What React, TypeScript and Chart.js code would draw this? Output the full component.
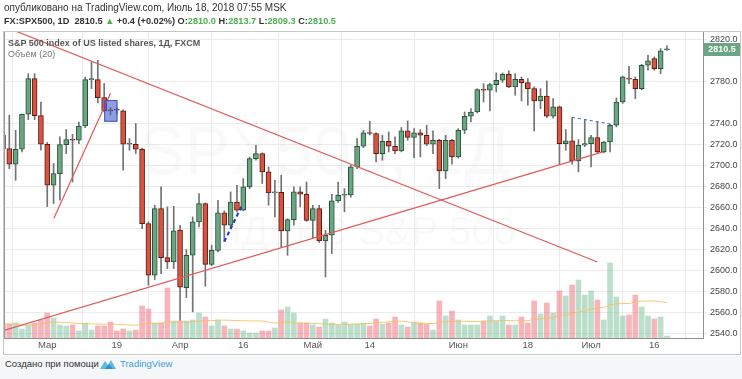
import React, { useEffect, useRef } from "react";
import { Chart, registerables } from "chart.js";

Chart.register(...registerables);

// ---- data (FX:SPX500, 1D, FXCM) ----
const opens = [2728.8, 2716.1, 2701.2, 2715.5, 2748.7, 2782.6, 2747.4, 2720.2, 2681.3, 2692.4,
  2719.9, 2724.7, 2724.0, 2737.6, 2781.6, 2781.6, 2764.5, 2753.0, 2753.0, 2751.9,
  2720.2, 2720.2, 2715.5, 2644.9, 2595.8, 2659.1, 2612.6, 2608.5, 2638.8, 2584.1,
  2614.8, 2646.5, 2663.9, 2606.2, 2619.5, 2655.0, 2643.3, 2665.4, 2657.5, 2679.7,
  2706.6, 2711.4, 2694.0, 2674.0, 2674.5, 2637.9, 2648.7, 2675.0, 2672.7, 2648.0,
  2659.1, 2628.4, 2633.8, 2666.4, 2671.8, 2672.0, 2698.7, 2718.3, 2731.0, 2730.4,
  2711.4, 2723.1, 2718.3, 2713.9, 2732.9, 2726.6, 2731.0, 2728.8, 2720.2, 2724.0,
  2694.9, 2724.0, 2708.2, 2733.5, 2746.8, 2750.9, 2772.1, 2771.5, 2776.9, 2781.0,
  2786.7, 2774.7, 2782.0, 2778.8, 2773.1, 2761.4, 2766.1, 2746.8, 2755.7, 2720.9,
  2723.4, 2704.4, 2719.3, 2720.9, 2726.6, 2712.9, 2722.4, 2738.3, 2760.4, 2783.2,
  2782.0, 2773.1, 2795.3, 2801.6, 2792.1, 2810.0];

const closes = [2716.1, 2701.2, 2715.5, 2748.7, 2782.6, 2747.4, 2720.2, 2681.3, 2692.4, 2719.9,
  2724.7, 2724.0, 2737.6, 2781.6, 2782.2, 2764.5, 2751.9, 2752.0, 2752.5, 2720.2,
  2720.8, 2715.5, 2644.9, 2595.8, 2659.1, 2612.6, 2608.5, 2637.9, 2584.4, 2614.8,
  2646.5, 2663.9, 2606.2, 2619.5, 2655.0, 2643.3, 2665.4, 2657.5, 2679.7, 2706.6,
  2711.4, 2694.0, 2674.0, 2674.5, 2637.9, 2648.7, 2675.0, 2672.7, 2648.0, 2659.1,
  2628.4, 2633.8, 2666.4, 2671.8, 2672.3, 2698.7, 2718.3, 2731.0, 2730.4, 2711.4,
  2723.1, 2718.3, 2713.9, 2732.9, 2726.6, 2731.0, 2728.8, 2720.2, 2724.0, 2694.9,
  2724.0, 2708.2, 2733.5, 2746.8, 2750.9, 2772.1, 2771.5, 2776.9, 2781.0, 2786.7,
  2774.7, 2782.0, 2778.8, 2773.1, 2761.4, 2766.1, 2746.8, 2755.7, 2720.9, 2723.4,
  2704.4, 2719.3, 2720.9, 2726.6, 2712.9, 2722.4, 2738.3, 2760.4, 2784.2, 2782.0,
  2773.1, 2795.3, 2799.4, 2792.1, 2808.9, 2810.5];

const highs = [2731.0, 2747.8, 2733.5, 2749.0, 2787.3, 2787.3, 2760.4, 2722.0, 2701.9, 2727.2,
  2734.2, 2729.7, 2741.4, 2784.0, 2798.4, 2800.0, 2777.8, 2755.0, 2755.0, 2753.0,
  2725.6, 2739.9, 2716.5, 2646.5, 2662.3, 2679.7, 2660.7, 2661.3, 2643.3, 2620.2,
  2651.2, 2673.4, 2664.5, 2624.3, 2667.0, 2657.0, 2675.0, 2681.3, 2687.6, 2708.0,
  2719.3, 2712.0, 2698.7, 2686.0, 2690.8, 2649.5, 2679.7, 2679.7, 2684.4, 2662.3,
  2662.3, 2638.5, 2672.7, 2684.4, 2678.1, 2700.3, 2725.6, 2733.5, 2742.1, 2731.0,
  2728.8, 2731.9, 2727.2, 2736.1, 2742.4, 2735.1, 2734.2, 2738.3, 2732.9, 2725.0,
  2728.8, 2725.0, 2735.1, 2750.9, 2754.1, 2773.1, 2777.8, 2778.0, 2788.0, 2788.0,
  2789.9, 2787.3, 2784.2, 2782.6, 2774.7, 2773.1, 2780.4, 2763.6, 2756.5, 2734.2,
  2745.5, 2724.7, 2743.6, 2728.8, 2741.4, 2723.0, 2739.2, 2764.2, 2785.0, 2794.3,
  2784.2, 2796.2, 2804.8, 2803.2, 2811.1, 2813.7];

const lows = [2713.0, 2697.1, 2686.0, 2712.9, 2743.6, 2743.6, 2714.5, 2661.0, 2664.0, 2667.0,
  2711.4, 2684.4, 2720.9, 2736.0, 2773.1, 2759.5, 2751.0, 2748.0, 2749.0, 2695.5,
  2714.5, 2711.4, 2640.1, 2586.3, 2591.7, 2597.4, 2602.1, 2602.1, 2553.0, 2574.6,
  2561.0, 2641.7, 2585.4, 2605.0, 2618.0, 2628.0, 2641.0, 2656.0, 2657.0, 2678.0,
  2705.0, 2682.9, 2662.3, 2651.2, 2622.7, 2614.8, 2643.3, 2660.7, 2647.0, 2630.6,
  2627.0, 2594.2, 2616.4, 2665.0, 2656.0, 2670.0, 2697.0, 2717.0, 2729.0, 2703.4,
  2705.0, 2712.9, 2711.4, 2713.0, 2724.0, 2707.6, 2708.2, 2719.0, 2711.4, 2678.1,
  2687.6, 2701.2, 2707.0, 2730.4, 2741.4, 2750.0, 2760.4, 2751.9, 2769.9, 2779.0,
  2774.0, 2766.8, 2761.4, 2757.3, 2732.9, 2754.1, 2745.5, 2745.0, 2701.2, 2714.5,
  2701.2, 2694.0, 2718.0, 2698.7, 2711.8, 2712.0, 2712.9, 2736.7, 2759.0, 2777.8,
  2763.6, 2772.0, 2790.5, 2790.5, 2787.3, 2809.3];

const volumes = [14, 14, 15, 9, 13, 15, 18, 25, 20, 13,
  12, 13, 7, 15, 8, 12, 12, 16, 7, 9,
  7, 8, 32, 29, 15, 15, 50, 17, 17, 17,
  18, 25, 21, 12, 18, 12, 9, 9, 7, 5,
  5, 7, 7, 10, 28, 31, 25, 15, 15, 13,
  11, 19, 15, 13, 16, 14, 14, 15, 12, 19,
  14, 15, 21, 13, 11, 16, 15, 14, 8, 37,
  22, 27, 18, 13, 13, 13, 17, 22, 17, 22,
  13, 13, 21, 15, 37, 24, 35, 25, 47, 42,
  53, 58, 43, 47, 38, 18, 75, 41, 22, 23,
  43, 31, 22, 19, 21, 2];

const xTickIndex = [7, 18, 28, 38, 49, 58, 72, 83, 93, 103];
const xTickLabels = ["Мар", "19", "Апр", "16", "Май", "14", "Июн", "18", "Июл", "16"];
const priceTicks = [2540, 2560, 2580, 2600, 2620, 2640, 2660, 2680, 2700, 2720, 2740, 2780, 2820];

// drawings, in [bar index, price]
const redLineA = [[0, 2832.5], [94, 2608.4]];
const redLineB = [[0, 2543.2], [95, 2713.2]];
const redLineC = [[8.05, 2649.9], [17.0, 2768.6]];
const blueLineA = [[35, 2627.7], [37.7, 2660.9]];
const blueLineB = [[90, 2745.8], [97, 2738.5]];
const blueBoxX = [16.0, 18.1];
const blueBoxY = [2741.6, 2762.2];

const FONT = '"Liberation Sans", Arial, sans-serif';

export default function App() {
  const ref = useRef<HTMLCanvasElement>(null);

  useEffect(() => {
    const canvas = ref.current!;
    Chart.defaults.font.family = FONT;
    const idx = opens.map((_, i) => i);
    const up = (i: number) => closes[i] >= opens[i];
    const volumeMA = volumes.map((_, i) => {
      const s = volumes.slice(Math.max(0, i - 19), i + 1);
      return s.reduce((a, b) => a + b, 0) / s.length;
    });
    const seg = (pts: number[][]) => pts.map((p) => ({ x: p[0], y: p[1] }));

    const decor = {
      id: "decor",
      beforeDraw(chart: any) {
        const c = chart.ctx;
        c.save();
        c.fillStyle = "#ffffff";
        c.fillRect(0, 0, chart.width, chart.height);
        c.restore();
      },
      beforeDatasetsDraw(chart: any) {
        const c = chart.ctx;
        const a = chart.chartArea;
        c.save();
        c.beginPath();
        c.rect(a.left, a.top, a.right - a.left, a.bottom - a.top);
        c.clip();
        c.fillStyle = "rgba(0,0,0,0.022)";
        c.textAlign = "center";
        c.textBaseline = "middle";
        c.font = `68px ${FONT}`;
        c.fillText("SPX500, 1Д", 325, 155);
        c.font = `40px ${FONT}`;
        c.fillText("ИНДЕКС S&P 500", 350, 234);
        c.restore();
      },
      afterDatasetsDraw(chart: any) {
        const c = chart.ctx;
        const xs = chart.scales.x;
        const ys = chart.scales.y;
        const a = chart.chartArea;
        c.save();
        const x0 = xs.getPixelForValue(blueBoxX[0]);
        const x1 = xs.getPixelForValue(blueBoxX[1]);
        const y0 = ys.getPixelForValue(blueBoxY[1]);
        const y1 = ys.getPixelForValue(blueBoxY[0]);
        c.fillStyle = "rgba(66,92,200,0.6)";
        c.fillRect(x0, y0, x1 - x0, y1 - y0);
        c.strokeStyle = "#3b55c8";
        c.lineWidth = 1;
        c.strokeRect(x0 + 0.5, y0 + 0.5, x1 - x0 - 1, y1 - y0 - 1);
        c.strokeStyle = "#9a9a9a";
        c.beginPath();
        c.moveTo(a.left + 0.5, a.top);
        c.lineTo(a.left + 0.5, a.bottom);
        c.stroke();
        c.strokeStyle = "#c8c8c8";
        c.strokeRect(3.5, 31.5, 737, 323);
        c.restore();
      },
      afterDraw(chart: any) {
        const c = chart.ctx;
        const ys = chart.scales.y;
        const last = closes[closes.length - 1];
        const y = ys.getPixelForValue(last);
        c.save();
        c.fillStyle = "#6ba583";
        c.fillRect(704, Math.round(y) - 6, 36, 13);
        c.fillStyle = "#ffffff";
        c.font = `bold 9px ${FONT}`;
        c.textAlign = "center";
        c.textBaseline = "middle";
        c.fillText(last.toFixed(1), 722, Math.round(y) + 0.5);
        c.restore();
      },
    };

    const lineDs = (pts: number[][], color: string, width: number, dash: number[] = []) => ({
      type: "line" as const,
      data: seg(pts),
      borderColor: color,
      borderWidth: width,
      borderDash: dash,
      pointRadius: 0,
      fill: false,
      yAxisID: "y",
      order: 0,
    });

    const chart = new Chart(canvas, {
      type: "bar",
      data: {
        datasets: [
          {
            type: "bar",
            data: volumes.map((v, i) => ({ x: i, y: v })),
            backgroundColor: idx.map((i) => (up(i) ? "rgba(107,184,141,0.45)" : "rgba(232,92,103,0.45)")),
            barThickness: 5,
            grouped: false,
            yAxisID: "yv",
            order: 10,
          } as any,
          {
            type: "line",
            data: volumeMA.map((v, i) => ({ x: i, y: v })),
            borderColor: "rgba(247,190,90,0.85)",
            borderWidth: 1,
            pointRadius: 0,
            yAxisID: "yv",
            order: 9,
          } as any,
          {
            type: "bar",
            data: idx.map((i) => ({ x: i, y: [lows[i], highs[i]] })),
            backgroundColor: "#737375",
            barThickness: 1,
            grouped: false,
            yAxisID: "y",
            order: 3,
          } as any,
          {
            type: "bar",
            data: idx.map((i) => ({ x: i, y: [opens[i], closes[i]] })),
            backgroundColor: idx.map((i) => (up(i) ? "#6ba583" : "#d75442")),
            borderColor: idx.map((i) => (up(i) ? "#225437" : "#5b1a13")),
            borderWidth: 1,
            borderSkipped: false,
            barThickness: 5,
            minBarLength: 1,
            grouped: false,
            yAxisID: "y",
            order: 2,
          } as any,
          lineDs(redLineA, "#e05a5a", 1.2) as any,
          lineDs(redLineB, "#e05a5a", 1.2) as any,
          lineDs(redLineC, "#e05a5a", 1.2) as any,
          lineDs(blueLineA, "#1f35c9", 2, [4, 3]) as any,
          lineDs(blueLineB, "#4a5fd0", 1, [3, 3]) as any,
        ],
      },
      options: {
        responsive: false,
        animation: false,
        devicePixelRatio: 1,
        events: [],
        layout: { padding: { left: 4, top: 31, right: 0, bottom: 23 } },
        plugins: { legend: { display: false }, tooltip: { enabled: false } },
        scales: {
          x: {
            type: "linear",
            min: 0.16,
            max: 110.7,
            offset: false,
            afterBuildTicks: (axis: any) => {
              axis.ticks = xTickIndex.map((v) => ({ value: v }));
            },
            afterFit: (axis: any) => {
              axis.height = 18;
            },
            ticks: {
              autoSkip: false,
              maxRotation: 0,
              padding: 0,
              color: "#555",
              font: { size: 9.5 },
              callback: (_v: any, i: number) => xTickLabels[i],
            },
            grid: { color: "#ebebeb", tickLength: 2 },
            border: { color: "#8f8f8f" },
          },
          y: {
            type: "linear",
            position: "right",
            min: 2536.2,
            max: 2827.8,
            afterBuildTicks: (axis: any) => {
              axis.ticks = priceTicks.map((v) => ({ value: v }));
            },
            afterFit: (axis: any) => {
              axis.width = 39;
            },
            ticks: {
              padding: 3,
              color: "#444",
              font: { size: 9 },
              callback: (v: any) => Number(v).toFixed(1),
            },
            grid: { color: "#ebebeb", tickLength: 4 },
            border: { color: "#8f8f8f" },
          },
          yv: {
            type: "linear",
            display: false,
            min: 0,
            max: 307,
          },
        },
      } as any,
      plugins: [decor],
    });
    return () => chart.destroy();
  }, []);

  const green = "#4caf50";
  return (
    <div style={{ position: "absolute", left: 0, top: 0, width: 742, height: 379, overflow: "hidden", background: "#fff", fontFamily: FONT }}>
      <canvas ref={ref} width={742} height={379} style={{ position: "absolute", left: 0, top: 0, width: 742, height: 379 }} />
      <div style={{ position: "absolute", left: 4, top: 2, fontSize: 10, color: "#333", whiteSpace: "nowrap" }}>
        опубликовано на TradingView.com, Июль 18, 2018 07:55 MSK
      </div>
      <div style={{ position: "absolute", left: 4, top: 16, fontSize: 9.2, fontWeight: "bold", color: "#333", whiteSpace: "nowrap" }}>
        FX:SPX500, 1D&nbsp; 2810.5 <span style={{ color: green }}>▲</span> +0.4 (+0.02%) O:<span style={{ color: green }}>2810.0</span> H:<span style={{ color: green }}>2813.7</span> L:<span style={{ color: green }}>2809.3</span> C:<span style={{ color: green }}>2810.5</span>
      </div>
      <div style={{ position: "absolute", left: 8, top: 38, fontSize: 9, fontWeight: "bold", color: "#555", whiteSpace: "nowrap" }}>
        S&amp;P 500 index of US listed shares, 1Д, FXCM
      </div>
      <div style={{ position: "absolute", left: 8, top: 49, fontSize: 9, color: "#777", whiteSpace: "nowrap" }}>
        Объём (20)
      </div>
      <div style={{ position: "absolute", left: 0, top: 356, width: 742, height: 23, background: "#f5f6f8" }} />
      <div style={{ position: "absolute", left: 5, top: 358, fontSize: 9.5, color: "#333", whiteSpace: "nowrap" }}>
        Создано при помощи
      </div>
      <svg style={{ position: "absolute", left: 99, top: 357 }} width={18} height={14} viewBox="0 0 18 14">
        <path d="M1 12 L6 4 L9 8 L12 3 L17 12 Z" fill="#5fb8e0" />
        <path d="M6 12 L10 7 L14 12 Z" fill="#2f8fc7" />
      </svg>
      <div style={{ position: "absolute", left: 120, top: 358, fontSize: 9.5, color: "#3aa0d8", whiteSpace: "nowrap" }}>
        TradingView
      </div>
    </div>
  );
}
